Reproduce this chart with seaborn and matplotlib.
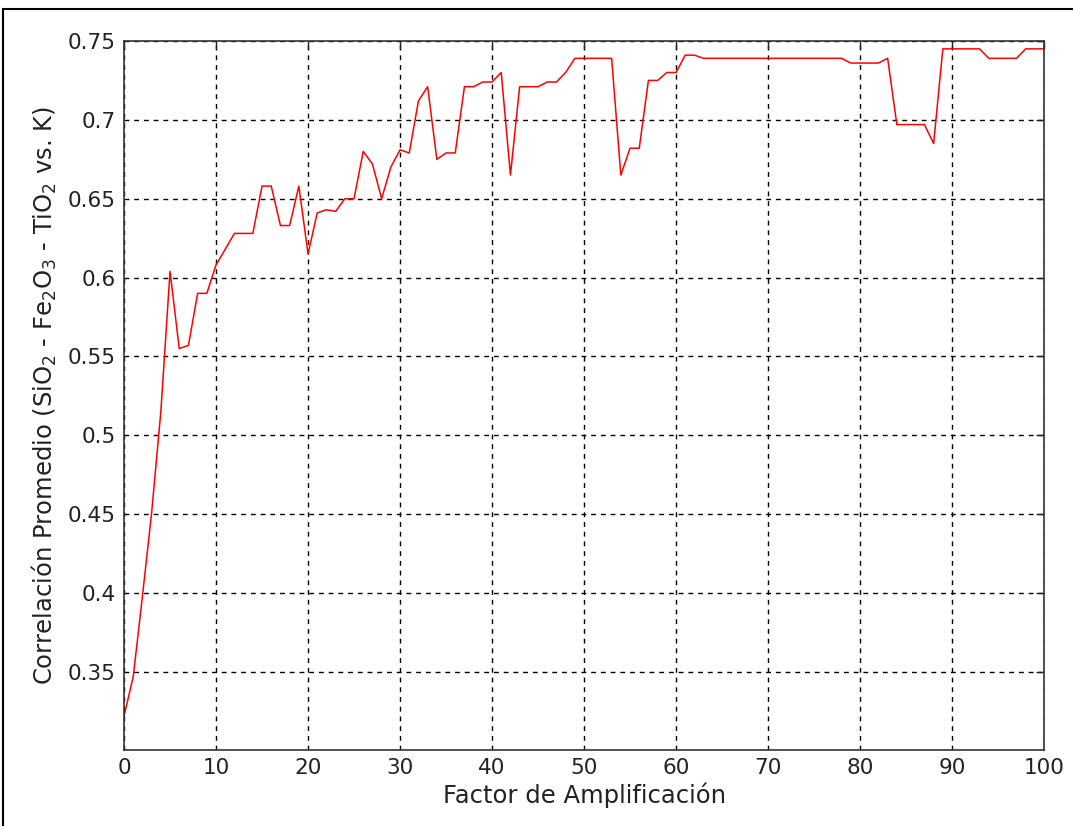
import numpy as np
import pandas as pd
import seaborn as sns
import matplotlib.pyplot as plt
from matplotlib.ticker import FuncFormatter
from matplotlib.patches import Rectangle

# factor de amplificacion 0..100 and average correlation
factor = list(range(0, 101))
correlacion = [
    0.322, 0.347, 0.398, 0.451, 0.515, 0.604, 0.555, 0.557, 0.590, 0.590,
    0.608, 0.618, 0.628, 0.628, 0.628, 0.658, 0.658, 0.633, 0.633, 0.658,
    0.615, 0.641, 0.643, 0.642, 0.650, 0.650, 0.680, 0.672, 0.650, 0.670,
    0.681, 0.679, 0.712, 0.721, 0.675, 0.679, 0.679, 0.721, 0.721, 0.724,
    0.724, 0.730, 0.665, 0.721, 0.721, 0.721, 0.724, 0.724, 0.730, 0.739,
    0.739, 0.739, 0.739, 0.739, 0.665, 0.682, 0.682, 0.725, 0.725, 0.730,
    0.730, 0.741, 0.741, 0.739, 0.739, 0.739, 0.739, 0.739, 0.739, 0.739,
    0.739, 0.739, 0.739, 0.739, 0.739, 0.739, 0.739, 0.739, 0.739, 0.736,
    0.736, 0.736, 0.736, 0.739, 0.697, 0.697, 0.697, 0.697, 0.685, 0.745,
    0.745, 0.745, 0.745, 0.745, 0.739, 0.739, 0.739, 0.739, 0.745, 0.745,
    0.745,
]
xticks = list(range(0, 101, 10))
yticks = [0.35, 0.4, 0.45, 0.5, 0.55, 0.6, 0.65, 0.7, 0.75]

df = pd.DataFrame({'Factor': factor, 'Correlacion': correlacion})

sns.set_style('white')
plt.rcParams['font.family'] = ['DejaVu Sans']

fig = plt.figure(figsize=(10.73, 8.26), dpi=100)
ax = fig.add_axes([0.1156, 0.092, 0.8574, 0.8584])

sns.lineplot(data=df, x='Factor', y='Correlacion', color='red', linewidth=1.1, ax=ax)

ax.set_xlim(0, 100)
ax.set_ylim(0.3005, 0.75)
ax.set_xticks(xticks)
ax.set_yticks(yticks)
ax.yaxis.set_major_formatter(FuncFormatter(lambda v, p: '%g' % v))
ax.grid(True, color='black', linestyle=(0, (3.5, 3.5)), linewidth=1.0)
ax.tick_params(direction='in', top=True, right=True, length=6, width=1,
               labelsize=15.5, colors='#222222', pad=6)
for s in ax.spines.values():
    s.set_color('#333333')
    s.set_linewidth(1.2)

ax.set_xlabel('Factor de Amplificación', fontsize=17.5, color='#222222', labelpad=3)
ax.set_ylabel(r'Correlación Promedio (SiO$_2$ - Fe$_2$O$_3$ - TiO$_2$ vs. K)',
              fontsize=17.5, color='#222222', labelpad=6)

# outer frame around the picture
fig.patches.append(Rectangle((0.003, -0.02), 1.1, 1.02 - 9 / 826, transform=fig.transFigure,
                             fill=False, edgecolor='black', linewidth=1.5, clip_on=False))

fig.savefig('out.png', dpi=100)
